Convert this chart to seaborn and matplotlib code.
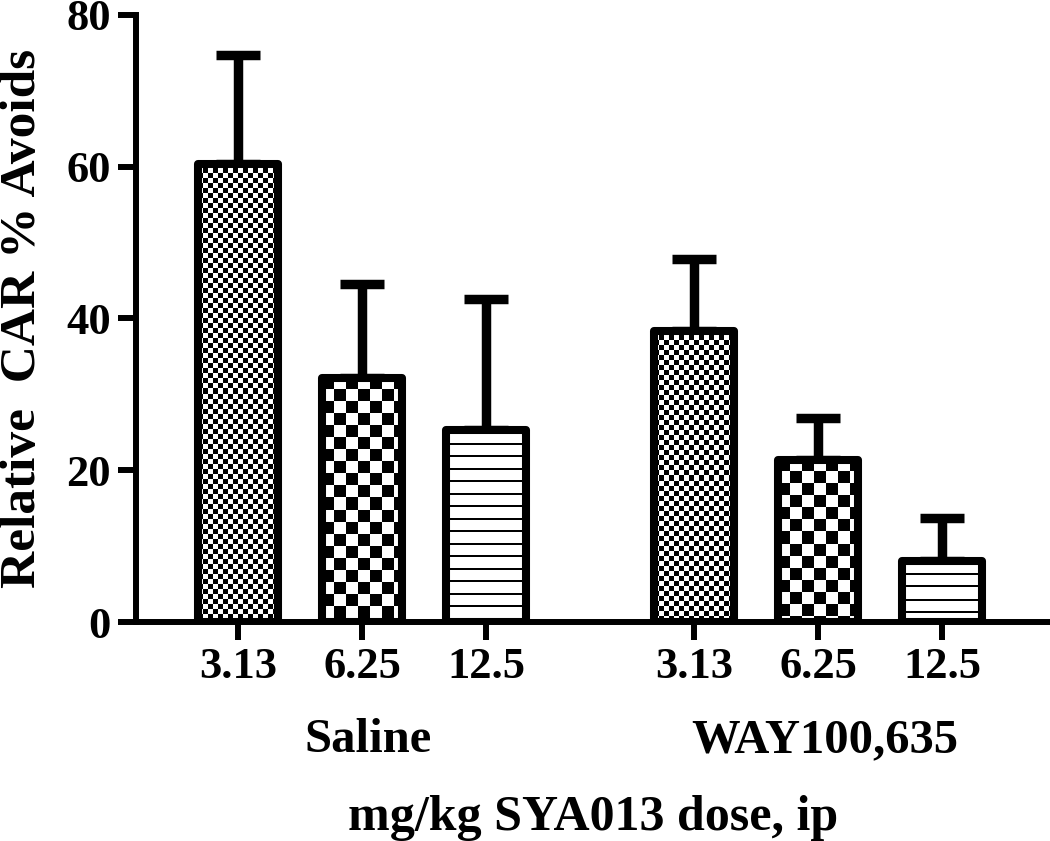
"""Relative CAR avoidance after SYA013, saline vs WAY100,635 pretreatment."""
import matplotlib

matplotlib.use("Agg")
import matplotlib.pyplot as plt
import numpy as np
import pandas as pd
import seaborn as sns

groups = ["Saline", "Saline", "Saline", "WAY100,635", "WAY100,635", "WAY100,635"]
doses = ["3.13", "6.25", "12.5", "3.13", "6.25", "12.5"]
car_mean = [60.4, 32.2, 25.3, 38.4, 21.4, 8.1]
car_sem = [14.3, 12.3, 17.3, 9.5, 5.5, 5.6]
yticks = [0, 20, 40, 60, 80]

GROUP_GAP = 0.68  # extra room between the two pretreatment groups
FILLS = {"3.13": ("checker", 5), "6.25": ("checker", 12), "12.5": ("lines", 12.5)}

sns.set_style("ticks")
plt.rcParams["font.family"] = ["Liberation Serif", "DejaVu Serif"]
plt.rcParams["font.weight"] = "bold"
for key in ("text.color", "axes.labelcolor", "axes.edgecolor",
            "xtick.color", "ytick.color"):
    plt.rcParams[key] = "black"


def fill_pattern(kind, size, h, w):
    """Black/white texture in screen pixels (0 = black, 1 = white)."""
    yy, xx = np.mgrid[0:h, 0:w]
    if kind == "checker":
        return ((xx // size + yy // size) % 2).astype(float)
    return ((yy % size) >= 2).astype(float)


df = pd.DataFrame({"group": groups, "dose": doses, "mean": car_mean, "sem": car_sem})
df["xpos"] = np.arange(len(df)) + GROUP_GAP * (df["group"] != groups[0])

fig, ax = plt.subplots(figsize=(10.5, 8.41), dpi=100)
fig.subplots_adjust(left=0.1295, right=1.0, bottom=0.2604, top=0.9822)

sns.barplot(data=df, x="xpos", y="mean", native_scale=True, width=0.65,
            color="white", saturation=1, edgecolor="black", linewidth=5.8,
            errorbar=None, ax=ax)

ax.set_xlim(-0.823, 6.55)
ax.set_ylim(0, 80)

# upward-only SEM bars
centers = [p.get_x() + p.get_width() / 2 for p in ax.patches]
ax.errorbar(centers, df["mean"], yerr=[np.zeros(len(df)), df["sem"]],
            fmt="none", ecolor="black", elinewidth=6.8, capsize=16,
            capthick=6.8, zorder=1)

# textured fills, clipped to each bar
for patch, dose in zip(ax.patches, df["dose"]):
    x0, y0 = patch.get_x(), patch.get_y()
    x1, y1 = x0 + patch.get_width(), y0 + patch.get_height()
    (px0, py0), (px1, py1) = ax.transData.transform([(x0, y0), (x1, y1)])
    h, w = max(int(round(py1 - py0)), 1), max(int(round(px1 - px0)), 1)
    kind, size = FILLS[dose]
    im = ax.imshow(fill_pattern(kind, size, h, w), cmap="gray", vmin=0, vmax=1,
                   extent=(x0, x1, y0, y1), origin="upper", aspect="auto",
                   interpolation="nearest", zorder=2)
    im.set_clip_path(patch)
    patch.set_facecolor("none")
    patch.set_joinstyle("round")
    patch.set_zorder(3)

ax.set_xlim(-0.823, 6.55)
ax.set_ylim(0, 80)

sns.despine(ax=ax)
for side in ("left", "bottom"):
    ax.spines[side].set_linewidth(4.3)
ax.tick_params(axis="both", length=13, width=4.3, labelsize=32, pad=5)
ax.set_xticks(df["xpos"])
ax.set_xticklabels(df["dose"])
ax.set_yticks(yticks)
ax.set_yticklabels([str(t) for t in yticks])

for g in df["group"].unique():
    xc = df.loc[df["group"] == g, "xpos"].mean()
    ax.text(xc + 0.05, -0.214, g, transform=ax.get_xaxis_transform(), ha="center",
            va="baseline", fontsize=35, fontweight="bold")

ax.set_xlabel("mg/kg SYA013 dose, ip", fontsize=36, fontweight="bold")
ax.xaxis.label.set_va("baseline")
ax.xaxis.set_label_coords(0.5, -0.343)
ax.set_ylabel("Relative  CAR % Avoids", fontsize=37, fontweight="bold")
ax.yaxis.label.set_va("baseline")
ax.yaxis.set_label_coords(-0.1105, 0.5)

fig.savefig("out.png", dpi=100)
